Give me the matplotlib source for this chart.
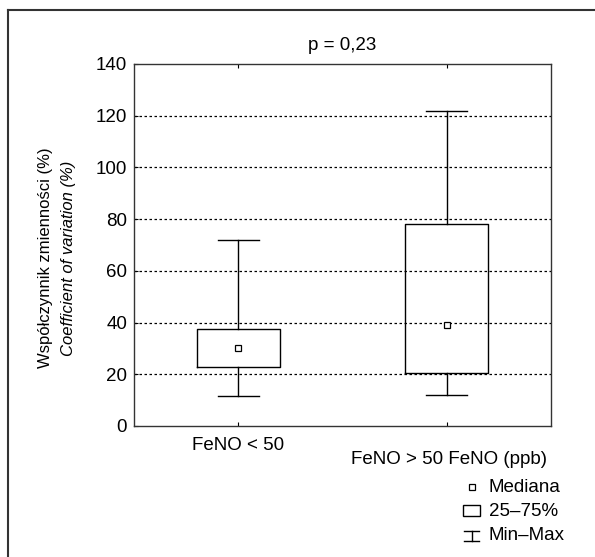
import matplotlib
matplotlib.use("Agg")
import matplotlib.pyplot as plt
from matplotlib.lines import Line2D
from matplotlib.patches import Rectangle

plt.rcParams['font.family'] = ['Liberation Sans', 'DejaVu Sans']

categories = ["FeNO < 50", "FeNO > 50 FeNO (ppb)"]
medians = [30, 39]
q1 = [23, 20.5]
q3 = [37.5, 78]
mins = [11.5, 12]
maxs = [72, 122]
yticks = [0, 20, 40, 60, 80, 100, 120, 140]
title = "p = 0,23"
legend_labels = ["Mediana", "25\u201375%", "Min\u2013Max"]

W, H = 595, 557
fig = plt.figure(figsize=(W / 100, H / 100), dpi=100)

def fx(px):
    return px / W

def fy(py):
    return 1 - py / H

ax = fig.add_axes([fx(134), fy(426), fx(551) - fx(134), fy(64) - fy(426)])

stats = []
for i in range(len(categories)):
    stats.append(dict(med=medians[i], q1=q1[i], q3=q3[i], whislo=mins[i], whishi=maxs[i],
                      mean=medians[i], fliers=[]))
ax.bxp(stats, positions=[1, 2], widths=0.4, capwidths=0.196, showmeans=True, showfliers=False,
       boxprops=dict(color='black', linewidth=1.0),
       whiskerprops=dict(color='black', linewidth=1.0),
       capprops=dict(color='black', linewidth=1.0),
       medianprops=dict(linewidth=0),
       meanprops=dict(marker='s', markersize=4, markerfacecolor='white', markeredgecolor='black',
                      markeredgewidth=0.9), zorder=3)

ax.set_xlim(0.5, 2.5)
ax.set_ylim(0, 140)
ax.set_yticks(yticks)
ax.set_yticklabels([str(t) for t in yticks], fontsize=13.5)
ax.set_xticks([1, 2])
ax.set_xticklabels([])
ax.tick_params(axis='y', direction='in', length=3, right=False, pad=5)
ax.tick_params(axis='x', direction='in', length=3, top=True)
for y in yticks[1:-1]:
    ax.axhline(y, color='black', linestyle=(0, (2, 2)), linewidth=0.9, zorder=1)
for s in ax.spines.values():
    s.set_linewidth(1.0)
    s.set_color('#333333')

# x labels
fig.text(fx(238), fy(446), categories[0], ha='center', va='center', fontsize=13.5)
fig.text(fx(449), fy(460), categories[1], ha='center', va='center', fontsize=13.5)

# title
fig.text(fx(342), fy(45), title, ha='center', va='center', fontsize=13.5)

# y label
fig.text(fx(46), fy(258), "Współczynnik zmienności (%)", rotation=90, ha='center', va='center', fontsize=12)
fig.text(fx(69), fy(258), "Coefficient of variation (%)", rotation=90, ha='center', va='center',
         fontsize=12, style='italic')

# frame (top & left only visible)
fig.add_artist(Line2D([fx(8), fx(8)], [fy(10), 0], transform=fig.transFigure, color='#333333', linewidth=1.5))
fig.add_artist(Line2D([fx(8), 1], [fy(10), fy(10)], transform=fig.transFigure, color='#333333', linewidth=1.5))

# legend
fig.add_artist(Line2D([fx(472)], [fy(487)], transform=fig.transFigure, marker='s', markersize=4,
                      markerfacecolor='white', markeredgecolor='black', markeredgewidth=0.9, linestyle='none'))
fig.add_artist(Rectangle((fx(463), fy(516)), fx(480) - fx(463), fy(505) - fy(516),
                         transform=fig.transFigure, facecolor='white', edgecolor='black', linewidth=1.0))
fig.add_artist(Line2D([fx(471.5), fx(471.5)], [fy(531), fy(541)], transform=fig.transFigure, color='black', linewidth=1.0))
fig.add_artist(Line2D([fx(464), fx(479)], [fy(531), fy(531)], transform=fig.transFigure, color='black', linewidth=1.0))
fig.add_artist(Line2D([fx(464), fx(479)], [fy(541), fy(541)], transform=fig.transFigure, color='black', linewidth=1.0))
for lab, yy in zip(legend_labels, [487, 511, 536]):
    fig.text(fx(489), fy(yy), lab, ha='left', va='center', fontsize=13.5)

fig.savefig("out.png", dpi=100)
